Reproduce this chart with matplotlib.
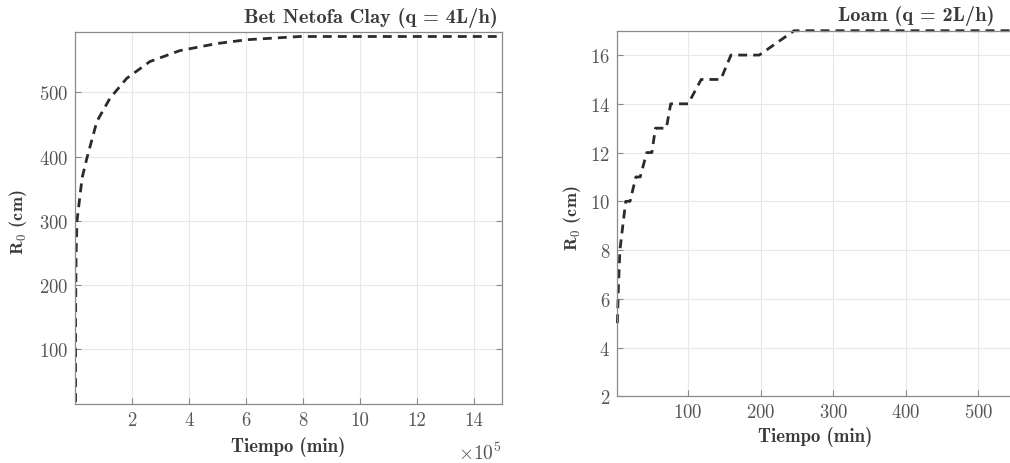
import matplotlib
matplotlib.use('Agg')
import matplotlib.pyplot as plt
from matplotlib.ticker import FuncFormatter

# Bet Netofa Clay (q = 4 L/h)
clay_t = [0.02e5, 0.02e5, 0.04e5, 0.07e5, 0.25e5, 0.42e5, 0.77e5, 1.23e5, 1.82e5,
          2.63e5, 3.68e5, 4.98e5, 6.04e5, 7.9e5, 15e5]
clay_r = [18, 150, 250, 300, 367, 398, 455, 491, 522, 548, 565, 576, 582, 587, 587]

# Loam (q = 2 L/h)
loam_t = [2.5, 4, 6, 10, 14, 20, 28, 34, 43, 50, 55, 70, 76, 100, 118, 145,
          159, 198, 246, 560]
loam_r = [5, 6.5, 8, 9, 10, 10, 11, 11, 12, 12, 13, 13, 14, 14, 15, 15,
          16, 16, 17, 17]

plt.rcParams['font.family'] = 'cmr10'
plt.rcParams['mathtext.fontset'] = 'cm'
plt.rcParams['axes.formatter.use_mathtext'] = True

W, H = 1010, 464
fig = plt.figure(figsize=(W / 100, H / 100), dpi=100)

text_c = '#3a3a3a'
tick_c = '#555555'
spine_c = '#8a8a8a'
line_c = '#2b2b2b'


def px_axes(l, r, t, b):
    return fig.add_axes([l / W, 1 - b / H, (r - l) / W, (b - t) / H])


def style(ax):
    ax.grid(True, color='#e8e8e8', linewidth=0.8)
    ax.set_axisbelow(True)
    for s in ax.spines.values():
        s.set_color(spine_c)
        s.set_linewidth(0.9)
    ax.tick_params(direction='in', length=4, color=spine_c, labelcolor=tick_c,
                   labelsize=13.5, pad=5, top=False, right=True)


ax1 = px_axes(75, 502, 33, 405)
ax1.plot(clay_t, clay_r, color=line_c, linewidth=2.0, dashes=(3.2, 2.2))
ax1.set_xlim(0, 15e5)
ax1.set_ylim(15, 594)
ax1.set_xticks([2e5, 4e5, 6e5, 8e5, 10e5, 12e5, 14e5])
ax1.set_yticks([100, 200, 300, 400, 500])
ax1.xaxis.set_major_formatter(FuncFormatter(lambda v, p: f'{v / 1e5:g}'))
style(ax1)

ax2 = px_axes(617, 1022, 31.7, 397.3)
ax2.plot(loam_t, loam_r, color=line_c, linewidth=2.0, dashes=(3.2, 2.2),
         clip_on=False)
ax2.set_xlim(2, 560)
ax2.set_ylim(2, 17)
ax2.set_xticks([100, 200, 300, 400, 500])
ax2.set_yticks([2, 4, 6, 8, 10, 12, 14, 16])
style(ax2)

lab = dict(family='cmb10', color=text_c)
fig.text(498 / W, 1 - 23 / H, 'Bet Netofa Clay (q = 4L/h)', ha='right',
         va='baseline', fontsize=14.7, **lab)
fig.text(995 / W, 1 - 21 / H, 'Loam (q = 2L/h)', ha='right',
         va='baseline', fontsize=14.7, **lab)

fig.text(288 / W, 1 - 447 / H, 'Tiempo (min)', ha='center', va='center',
         fontsize=13.5, **lab)
fig.text(815 / W, 1 - 437 / H, 'Tiempo (min)', ha='center', va='center',
         fontsize=13.5, **lab)

fig.text(18 / W, 1 - 222 / H, r'R$_\mathbf{0}$ (cm)', ha='center', va='center',
         rotation=90, fontsize=13, **lab)
fig.text(572 / W, 1 - 218 / H, r'R$_\mathbf{0}$ (cm)', ha='center', va='center',
         rotation=90, fontsize=13, **lab)

fig.text(502 / W, 1 - 460 / H, r'$\times10^5$', ha='right', va='baseline',
         fontsize=14, color=tick_c)

fig.savefig('out.png', dpi=100)
